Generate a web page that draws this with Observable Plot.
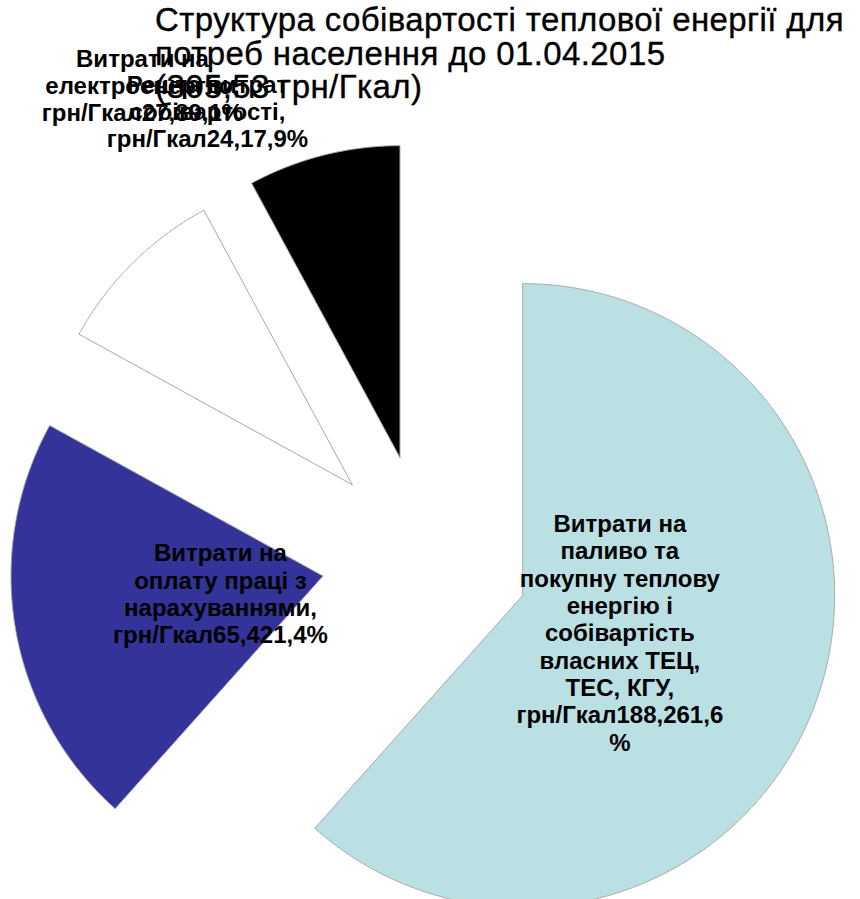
<!DOCTYPE html>
<html>
<head>
<meta charset="utf-8">
<script src="https://cdn.jsdelivr.net/npm/d3@7"></script>
<script src="https://cdn.jsdelivr.net/npm/@observablehq/plot@0.6"></script>
<style>
  html, body { margin: 0; padding: 0; background: #fff; overflow: hidden; }
  #wrap { position: relative; width: 860px; height: 899px; }
  #chart { position: absolute; left: 0; top: 0; }
  #title {
    position: absolute; left: 155px; top: 3px; z-index: 2;
    font-family: "Liberation Sans", Arial, sans-serif;
    font-size: 33px; line-height: 33.5px; letter-spacing: 0.4px; color: #000; white-space: nowrap;
    -webkit-text-stroke: 0.35px #000;
  }
</style>
</head>
<body>
<div id="wrap">
  <div id="chart"></div>
  <div id="title"></div>
</div>
<script>
// ---- data ----
const titleLines = [
  "Структура собівартості теплової енергії для",
  "потреб населення до 01.04.2015",
  "(305,53 грн/Гкал)"
];
const categories = [
  "Витрати на паливо та покупну теплову енергію і собівартість власних ТЕЦ, ТЕС, КГУ",
  "Витрати на оплату праці з нарахуваннями",
  "Витрати на електроенергію",
  "Решта витрат собівартості"
];
const labelLines = [
  ["Витрати на", "паливо та", "покупну теплову", "енергію і", "собівартість", "власних ТЕЦ,", "ТЕС, КГУ,"],
  ["Витрати на", "оплату праці з", "нарахуваннями,"],
  ["Витрати на", "електроенергію,"],
  ["Решта витрат", "собівартості,"]
];
const values = [188.2, 65.4, 27.8, 24.1];     // грн/Гкал
const percents = [61.6, 21.4, 9.1, 7.9];      // %
const unit = "грн/Гкал";

// ---- layout / style ----
const W = 860, H = 899;
const CX = 425, CY = 558, RPX = 312;          // pie centre and radius in pixels
const EXPLODE = 1 / 3;                        // slice offset, in radii
const sliceColors = ["#bbe0e3", "#333399", "#ffffff", "#000000"];
const pctOnNewLine = [true, false, false, false];
const outside = [false, false, true, true];
const labelNudgePx = [[0, 0], [0, 0], [10, -178], [-116, -44]];

document.getElementById("title").innerHTML = titleLines.join("<br>");

const fmt = v => String(v).replace(".", ",");
const rows = categories.map((c, i) => ({cat: c, value: values[i], pct: percents[i], i}));
const arcs = d3.pie().sort(null).value(d => d.value)(rows);

const pts = [];
const labels = [];
for (const s of arcs) {
  const m = (s.startAngle + s.endAngle) / 2;
  const ox = EXPLODE * Math.sin(m), oy = EXPLODE * Math.cos(m);
  const cat = s.data.cat;
  pts.push({cat, x: ox, y: oy});
  const n = Math.max(4, Math.ceil((s.endAngle - s.startAngle) / 0.005));
  for (let k = 0; k <= n; k++) {
    const a = s.startAngle + (s.endAngle - s.startAngle) * k / n;
    pts.push({cat, x: ox + Math.sin(a), y: oy + Math.cos(a)});
  }
  pts.push({cat, x: ox, y: oy});

  const i = s.data.i;
  const text = labelLines[i].join("\n") + "\n" + unit + fmt(s.data.value) + fmt(s.data.pct) +
               (pctOnNewLine[i] ? "\n" : "") + "%";
  let lx, ly;
  if (outside[i]) {
    lx = (EXPLODE + 1) * Math.sin(m) + labelNudgePx[i][0] / RPX;
    ly = (EXPLODE + 1) * Math.cos(m) - labelNudgePx[i][1] / RPX;
  } else {
    lx = 2 / 3 * Math.sin(m);
    ly = 2 / 3 * Math.cos(m);
  }
  labels.push({x: lx, y: ly, text});
}

const chart = Plot.plot({
  width: W, height: H, margin: 0,
  style: {fontFamily: "'Liberation Sans', Arial, sans-serif", background: "#fff"},
  x: {domain: [-CX / RPX, (W - CX) / RPX], range: [0, W], axis: null},
  y: {domain: [-(H - CY) / RPX, CY / RPX], range: [H, 0], axis: null},
  color: {domain: categories, range: sliceColors},
  marks: [
    Plot.line(pts, {x: "x", y: "y", z: "cat", fill: "cat", stroke: "#a8a8a8", strokeWidth: 1, curve: "linear"}),
    Plot.text(labels, {x: "x", y: "y", text: "text", fontSize: 24, fontWeight: "bold",
                       lineHeight: 1.14, fill: "#000", textAnchor: "middle"})
  ]
});
document.getElementById("chart").appendChild(chart);
</script>
</body>
</html>
